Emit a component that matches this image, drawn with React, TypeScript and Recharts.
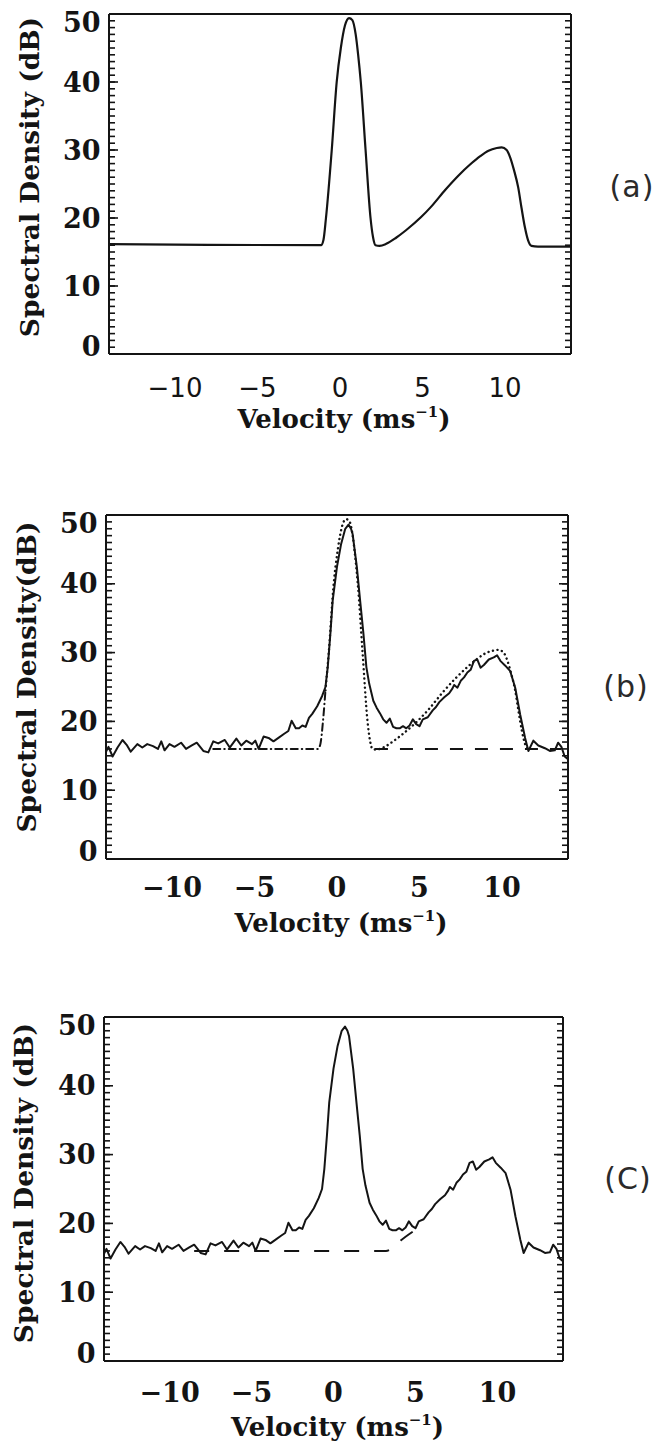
import React from 'react';
import { LineChart, Line, XAxis, YAxis, Label } from 'recharts';

// ---------- ticks ----------
const majorX = [-10, -5, 0, 5, 10];
const minorX = [-14, -13, -12, -11, -10, -9, -8, -7, -6, -5, -4, -3, -2, -1, 0, 1, 2, 3, 4, 5, 6, 7, 8, 9, 10, 11, 12, 13, 14];
const majorY = [0, 10, 20, 30, 40, 50];
const minorY = Array.from({ length: 51 }, (_, i) => i);

// ---------- data (velocity m/s, spectral density dB) ----------
// (a) model spectrum
const modelA: [number, number][] = [
  [-14, 16.15], [-8, 16.05], [-1.15, 16.0], [-1.0, 16.8], [-0.85, 20], [-0.5, 30], [-0.2, 40],
  [0.05, 45], [0.3, 48.3], [0.55, 49.4], [0.75, 49.1], [0.95, 47], [1.1, 44], [1.26, 40],
  [1.55, 30], [1.85, 20], [2.0, 17.2], [2.15, 16.0], [2.4, 15.9], [2.8, 16.2], [3.4, 17.1],
  [4.0, 18.2], [4.9, 20.1], [5.5, 21.6], [6.4, 24.2], [7.2, 26.3], [7.9, 27.9], [8.5, 29.1],
  [9.0, 29.9], [9.5, 30.3], [9.8, 30.4], [10.1, 30.0], [10.3, 29.0], [10.55, 27.0], [10.8, 24.5],
  [11.0, 21.5], [11.2, 18.7], [11.4, 16.7], [11.6, 15.9], [12.0, 15.8], [14, 15.8],
];

// measured (noisy) spectrum, panels (b) and (c)
const measured: [number, number][] = [
  [-14.0, 15.6], [-13.85, 16.3], [-13.6, 14.9], [-13.3, 16.2], [-13.0, 17.3], [-12.75, 16.6],
  [-12.5, 15.6], [-12.1, 16.7], [-11.8, 16.2], [-11.5, 16.7], [-11.15, 16.4], [-10.85, 16.0],
  [-10.65, 17.1], [-10.45, 15.8], [-10.15, 16.7], [-9.85, 16.3], [-9.45, 16.9], [-9.15, 16.0],
  [-8.8, 16.5], [-8.5, 16.9], [-8.1, 15.7], [-7.8, 15.5], [-7.5, 17.1], [-7.2, 16.8], [-6.8, 17.3],
  [-6.5, 16.2], [-6.1, 17.5], [-5.8, 16.5], [-5.5, 17.2], [-5.15, 16.7], [-4.95, 17.2], [-4.75, 16.0],
  [-4.45, 17.8], [-4.15, 17.6], [-3.85, 17.1], [-3.55, 17.6], [-3.2, 18.2], [-2.95, 18.6],
  [-2.75, 20.1], [-2.5, 19.0], [-2.3, 19.0], [-2.1, 19.4], [-1.9, 19.2], [-1.7, 20.5], [-1.5, 21.1],
  [-1.2, 22.2], [-0.9, 23.7], [-0.7, 25.0], [-0.56, 27.9], [-0.4, 32.8], [-0.26, 37.6], [0.0, 42.5],
  [0.25, 45.8], [0.5, 48.0], [0.7, 48.6], [0.85, 48.0], [0.95, 47.2], [1.2, 42.5], [1.4, 37.6],
  [1.6, 32.8], [1.78, 27.9], [1.95, 25.5], [2.2, 23.0], [2.4, 22.0], [2.6, 21.2], [2.8, 20.3],
  [3.0, 19.8], [3.2, 20.4], [3.4, 19.2], [3.6, 19.0], [3.8, 19.0], [4.0, 19.3], [4.2, 19.0],
  [4.4, 19.4], [4.6, 20.3], [4.8, 19.6], [5.0, 19.3], [5.2, 20.3], [5.5, 20.6], [5.8, 21.6],
  [6.0, 22.1], [6.2, 22.8], [6.5, 23.5], [6.8, 24.1], [7.0, 24.8], [7.1, 25.3], [7.3, 24.9],
  [7.5, 25.9], [7.7, 26.4], [7.9, 27.1], [8.1, 27.5], [8.3, 28.8], [8.5, 29.0], [8.7, 27.8],
  [8.9, 28.2], [9.2, 29.0], [9.5, 29.3], [9.7, 29.6], [9.9, 28.8], [10.2, 28.1], [10.5, 27.3],
  [10.8, 24.9], [11.1, 21.0], [11.4, 17.6], [11.6, 15.7], [11.9, 17.2], [12.2, 16.5], [12.6, 16.1],
  [12.9, 15.7], [13.2, 15.8], [13.4, 16.9], [13.6, 16.3], [13.8, 14.9], [14.0, 14.5],
];

// (b) fitted model pieces
const bModelLeft: [number, number][] = [
  [-7.5, 16.0], [-4, 16.0], [-1.15, 16.0], [-1.0, 16.8], [-0.85, 20], [-0.7, 24.5],
];
const bModelPeak: [number, number][] = [
  [-0.7, 24.5], [-0.5, 30], [-0.2, 40], [0.05, 45], [0.3, 48.3], [0.55, 49.4], [0.75, 49.1],
  [0.95, 47], [1.1, 44], [1.26, 40], [1.55, 30], [1.85, 20], [2.0, 17.2], [2.15, 16.0], [2.4, 15.9],
  [2.8, 16.2], [3.4, 17.1], [4.0, 18.2], [4.9, 20.1], [5.5, 21.6], [6.4, 24.2], [7.2, 26.3],
  [7.9, 27.9], [8.5, 29.1], [9.0, 29.9], [9.5, 30.3], [9.8, 30.4], [10.1, 30.0], [10.3, 29.0],
  [10.55, 27.0], [10.8, 24.5], [11.0, 21.5], [11.2, 18.7], [11.4, 16.7], [11.6, 15.9],
];
const bBaseline: [number, number][] = [[2.3, 16.0], [13.6, 16.0]];

// (c) noise-floor fit
const cBaseline: [number, number][] = [[-8.5, 16.0], [3.2, 16.0], [3.6, 16.4], [4.1, 17.5], [4.9, 18.9]];

const toData = (pts: [number, number][]) => pts.map(([x, y]) => ({ x, y }));

const SERIF = "'DejaVu Serif', serif";
const SANS = "'DejaVu Sans', sans-serif";
const INK = '#141414';

const fmt = (v: number) => (v < 0 ? '\u2212' + Math.abs(v) : String(v));
const noLabel = () => <g />;

type Plot = { left: number; right: number; top: number; bottom: number };
type SeriesDef = { pts: [number, number][]; dash?: string; type: 'monotone' | 'linear'; width?: number; round?: boolean };

type PanelProps = {
  top: number;
  height: number;
  plot: Plot;
  sansTicks: boolean;
  xTickDy: number;
  xTitleDy: number;
  yTitle: string;
  yTitleX: number;
  yTitleY: number;
  tag: string;
  tagX: number;
  tagY: number;
  series: SeriesDef[];
};

function Panel(p: PanelProps) {
  const { top, height, plot } = p;
  // main axes take 1px each (left / bottom); mirrored axes take none
  const margin = { top: plot.top - top, right: 660 - plot.right, bottom: top + height - plot.bottom - 1, left: plot.left - 1 };
  const bottomLocal = plot.bottom - top;
  const midX = (plot.left + plot.right) / 2;

  const xTick = (props: any) => (
    <text
      x={props.x}
      y={bottomLocal + p.xTickDy}
      textAnchor="middle"
      fontFamily={p.sansTicks ? SANS : SERIF}
      fontWeight={p.sansTicks ? 400 : 700}
      fontSize={p.sansTicks ? 26 : 27}
      fill={INK}
    >
      {fmt(props.payload.value)}
    </text>
  );

  const yTick = (props: any) => {
    const v = props.payload.value;
    const shift = v === 50 ? 8 : v === 0 ? -8 : 0;
    return (
      <text x={plot.left - 8.5} y={props.y + 9.5 + shift} textAnchor="end" fontFamily={SERIF} fontWeight={700} fontSize={27} fill={INK}>
        {v}
      </text>
    );
  };

  const xTitle = () => (
    <text x={midX + 4} y={bottomLocal + p.xTitleDy} textAnchor="middle" fontFamily={SERIF} fontWeight={700} fontSize={26} fill={INK}>
      Velocity (ms
      <tspan fontSize={15} dy={-11}>−1</tspan>
      <tspan dy={11}>)</tspan>
    </text>
  );

  const yTitle = () => (
    <text
      transform={`translate(${p.yTitleX},${p.yTitleY - top}) rotate(-90)`}
      textAnchor="middle"
      fontFamily={SERIF}
      fontWeight={700}
      fontSize={26.5}
      fill={INK}
    >
      {p.yTitle}
    </text>
  );

  const tickStroke = { stroke: INK, strokeWidth: 1.6 };
  const frame = { stroke: INK, strokeWidth: 2 };

  return (
    <div style={{ position: 'absolute', left: 0, top, width: 660, height }}>
      <LineChart width={660} height={height} margin={margin}>
        <XAxis
          type="number"
          dataKey="x"
          domain={[-14, 14]}
          ticks={majorX}
          interval={0}
          allowDataOverflow
          height={1}
          tickSize={0}
          tickMargin={0}
          tickLine={false}
          axisLine={frame}
          tick={xTick}
          label={<Label content={xTitle} />}
        />
        <YAxis
          type="number"
          domain={[0, 50]}
          ticks={majorY}
          interval={0}
          allowDataOverflow
          width={1}
          tickSize={0}
          tickMargin={0}
          tickLine={false}
          axisLine={frame}
          tick={yTick}
          label={<Label content={yTitle} />}
        />
        <XAxis xAxisId="bM" type="number" domain={[-14, 14]} ticks={majorX} interval={0} allowDataOverflow mirror height={1} tickSize={8} tick={noLabel} axisLine={false} tickLine={tickStroke} />
        <XAxis xAxisId="bm" type="number" domain={[-14, 14]} ticks={minorX} interval={0} allowDataOverflow mirror height={1} tickSize={4} tick={noLabel} axisLine={false} tickLine={tickStroke} />
        <XAxis xAxisId="tM" orientation="top" type="number" domain={[-14, 14]} ticks={majorX} interval={0} allowDataOverflow mirror height={1} tickSize={8} tick={noLabel} axisLine={frame} tickLine={tickStroke} />
        <XAxis xAxisId="tm" orientation="top" type="number" domain={[-14, 14]} ticks={minorX} interval={0} allowDataOverflow mirror height={1} tickSize={4} tick={noLabel} axisLine={false} tickLine={tickStroke} />
        <YAxis yAxisId="lM" type="number" domain={[0, 50]} ticks={majorY} interval={0} allowDataOverflow mirror width={1} tickSize={9} tick={noLabel} axisLine={false} tickLine={tickStroke} />
        <YAxis yAxisId="lm" type="number" domain={[0, 50]} ticks={minorY} interval={0} allowDataOverflow mirror width={1} tickSize={5} tick={noLabel} axisLine={false} tickLine={tickStroke} />
        <YAxis yAxisId="rM" orientation="right" type="number" domain={[0, 50]} ticks={majorY} interval={0} allowDataOverflow mirror width={1} tickSize={9} tick={noLabel} axisLine={frame} tickLine={tickStroke} />
        <YAxis yAxisId="rm" orientation="right" type="number" domain={[0, 50]} ticks={minorY} interval={0} allowDataOverflow mirror width={1} tickSize={5} tick={noLabel} axisLine={false} tickLine={tickStroke} />
        {p.series.map((s, i) => (
          <Line
            key={i}
            data={toData(s.pts)}
            dataKey="y"
            type={s.type}
            stroke={INK}
            strokeWidth={s.width ?? 2}
            strokeDasharray={s.dash}
            strokeLinecap={s.round ? 'round' : 'butt'}
            strokeLinejoin="round"
            dot={false}
            activeDot={false}
            isAnimationActive={false}
          />
        ))}
      </LineChart>
      <div
        style={{
          position: 'absolute',
          left: p.tagX - 40,
          top: p.tagY - top - 20,
          width: 80,
          height: 40,
          lineHeight: '40px',
          textAlign: 'center',
          fontFamily: SANS,
          fontWeight: 400,
          fontSize: 30,
          color: '#2a2a2a',
          letterSpacing: 1,
        }}
      >
        {p.tag}
      </div>
    </div>
  );
}

export default function App() {
  return (
    <div style={{ position: 'absolute', left: 0, top: 0, width: 660, height: 1447, background: '#fff' }}>
      <Panel
        top={0}
        height={460}
        plot={{ left: 109, right: 571, top: 14, bottom: 354 }}
        sansTicks
        xTickDy={43}
        xTitleDy={74}
        yTitle="Spectral Density (dB)"
        yTitleX={39}
        yTitleY={177}
        tag="(a)"
        tagX={632}
        tagY={187}
        series={[{ pts: modelA, type: 'monotone', width: 2.2 }]}
      />
      <Panel
        top={460}
        height={500}
        plot={{ left: 106, right: 568, top: 515, bottom: 859 }}
        sansTicks={false}
        xTickDy={38}
        xTitleDy={73}
        yTitle="Spectral Density(dB)"
        yTitleX={36}
        yTitleY={677}
        tag="(b)"
        tagX={626}
        tagY={687}
        series={[
          { pts: bBaseline, type: 'linear', dash: '13 12', width: 2 },
          { pts: bModelLeft, type: 'monotone', dash: '7 4 0.5 4', width: 2, round: true },
          { pts: bModelPeak, type: 'monotone', dash: '0.1 4.5', width: 2.4, round: true },
          { pts: measured, type: 'linear', width: 2 },
        ]}
      />
      <Panel
        top={960}
        height={487}
        plot={{ left: 104, right: 563, top: 1017, bottom: 1361 }}
        sansTicks={false}
        xTickDy={40.5}
        xTitleDy={75}
        yTitle="Spectral Density (dB)"
        yTitleX={33}
        yTitleY={1183}
        tag="(C)"
        tagX={628}
        tagY={1179}
        series={[
          { pts: cBaseline, type: 'monotone', dash: '15 15', width: 2 },
          { pts: measured, type: 'linear', width: 2 },
        ]}
      />
    </div>
  );
}
